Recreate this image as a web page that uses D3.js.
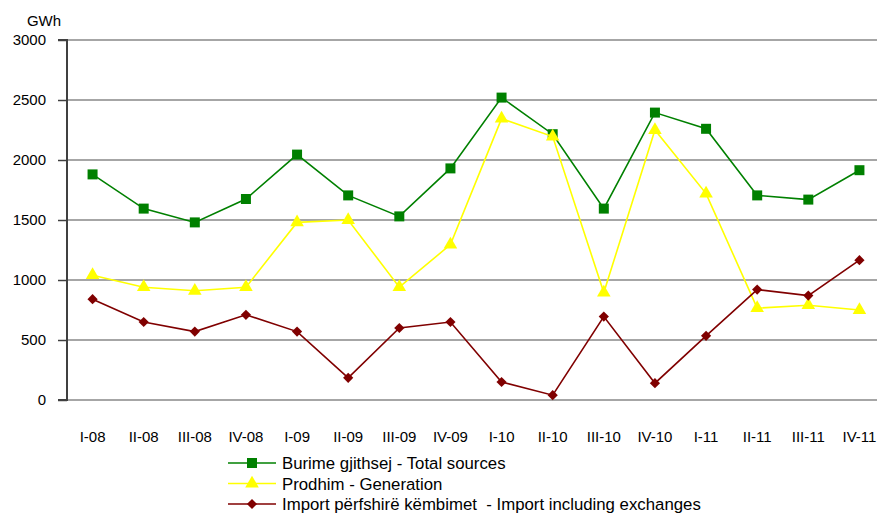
<!DOCTYPE html>
<html>
<head>
<meta charset="utf-8">
<script src="https://cdn.jsdelivr.net/npm/d3@7"></script>
<style>
  html, body { margin: 0; padding: 0; background: #fff; }
  svg { display: block; font-family: "Liberation Sans", Arial, sans-serif; }
</style>
</head>
<body>
<svg id="chart" width="877" height="515"></svg>
<script>
const categories = ["I-08","II-08","III-08","IV-08","I-09","II-09","III-09","IV-09","I-10","II-10","III-10","IV-10","I-11","II-11","III-11","IV-11"];
const totalSources = [1880,1595,1480,1675,2045,1705,1530,1930,2520,2215,1595,2395,2260,1705,1670,1915];
const generation   = [1040,940,910,940,1480,1500,940,1295,2345,2195,895,2250,1720,765,790,750];
const imports      = [840,650,570,710,570,185,600,650,150,40,695,140,535,920,870,1165];
const yTicks = [0,500,1000,1500,2000,2500,3000];
const yUnit = "GWh";
const seriesNames = ["Burime gjithsej - Total sources","Prodhim - Generation","Import përfshirë këmbimet  - Import including exchanges"];

const series = [
  {name: seriesNames[0], values: totalSources, color: "#008000", marker: d3.symbolSquare, size: 100, rot: 0},
  {name: seriesNames[1], values: generation, color: "#ffff00", marker: d3.symbolTriangle, size: 80, rot: 0},
  {name: seriesNames[2], values: imports, color: "#800000", marker: d3.symbolSquare, size: 52, rot: 45}
];

const svg = d3.select("#chart");
const mLeft = 67, mRight = 885, mTop = 40, mBottom = 400;

const x = d3.scaleBand().domain(categories).range([mLeft, mRight]);
const y = d3.scaleLinear().domain([0, 3000]).range([mBottom, mTop]);

// gridlines
svg.append("g").selectAll("line").data(yTicks).join("line")
  .attr("x1", mLeft).attr("x2", mRight)
  .attr("y1", d => y(d)).attr("y2", d => y(d))
  .attr("stroke", "#a6a6a6").attr("stroke-width", 2);

// y axis
const yAxis = d3.axisLeft(y).tickValues(yTicks).tickSize(9).tickPadding(12).tickFormat(d3.format("d"));
const ya = svg.append("g").attr("transform", `translate(${mLeft},0)`).call(yAxis);
ya.select(".domain").attr("stroke", "#404040").attr("stroke-width", 2).attr("d", `M-9,${mTop}H0V${mBottom}H-9`);
ya.selectAll(".tick line").attr("stroke", "#404040").attr("stroke-width", 1.5);
ya.selectAll(".tick text").attr("font-size", 15).attr("fill", "#000").attr("font-family", "Liberation Sans, Arial, sans-serif");

// x axis labels
const xAxis = d3.axisBottom(x).tickSize(0).tickPadding(31);
const xa = svg.append("g").attr("transform", `translate(0,${mBottom})`).call(xAxis);
xa.select(".domain").remove();
xa.selectAll(".tick text").attr("font-size", 15).attr("fill", "#000").attr("font-family", "Liberation Sans, Arial, sans-serif");

// unit label
svg.append("text").attr("x", 44).attr("y", 26).attr("text-anchor", "middle")
  .attr("font-size", 15).text(yUnit);

const cx = (d, i) => x(categories[i]) + x.bandwidth() / 2;
const line = d3.line().x(cx).y(d => y(d));

series.forEach(s => {
  svg.append("path").datum(s.values)
    .attr("fill", "none").attr("stroke", s.color).attr("stroke-width", 1.6)
    .attr("d", line);
  svg.append("g").selectAll("path").data(s.values).join("path")
    .attr("transform", (d, i) => `translate(${cx(d, i)},${y(d)}) rotate(${s.rot})`)
    .attr("d", d3.symbol().type(s.marker).size(s.size))
    .attr("fill", s.color);
});

// legend
const legendRows = [463, 483.5, 504];
series.forEach((s, i) => {
  const ly = legendRows[i];
  svg.append("line").attr("x1", 228).attr("x2", 276).attr("y1", ly).attr("y2", ly)
    .attr("stroke", s.color).attr("stroke-width", 1.6);
  svg.append("path").attr("transform", `translate(252,${ly}) rotate(${s.rot})`)
    .attr("d", d3.symbol().type(s.marker).size(s.size)).attr("fill", s.color);
  svg.append("text").attr("x", 282).attr("y", ly + 6)
    .attr("font-size", 16.8).style("white-space", "pre").text(s.name);
});
</script>
</body>
</html>
